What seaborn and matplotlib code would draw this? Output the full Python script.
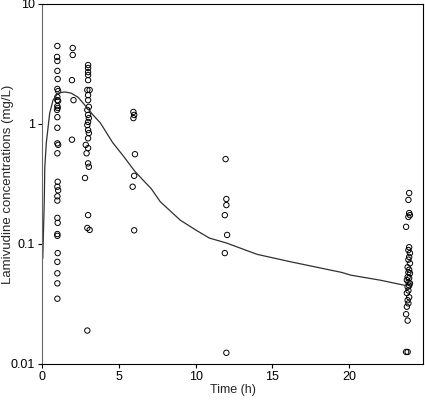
import matplotlib
matplotlib.use("Agg")
import matplotlib.pyplot as plt
import pandas as pd
import seaborn as sns

# observed concentrations (mg/L), grouped by nominal sampling time (h)
t1_time = [1.0, 0.98, 1.0, 1.0, 1.02, 1.0, 1.05, 1.0, 1.0, 1.05, 1.0, 1.02, 0.98,
           1.0, 1.0, 1.0, 1.05, 1.0, 1.02, 1.0, 1.05, 1.0, 1.0, 1.0, 1.02, 1.0,
           1.0, 1.02, 1.0, 1.0, 1.0]
t1_conc = [4.47, 3.62, 3.35, 2.77, 2.37, 1.96, 1.88, 1.68, 1.58, 1.56, 1.41, 1.36,
           1.31, 1.14, 0.93, 0.69, 0.67, 0.57, 0.33, 0.30, 0.28, 0.25, 0.23, 0.165,
           0.15, 0.121, 0.117, 0.084, 0.071, 0.057, 0.047]
t1b_time = [1.0]
t1b_conc = [0.035]

t2_time = [2.0, 2.0, 1.95, 2.05, 1.95]
t2_conc = [4.3, 3.76, 2.32, 1.58, 0.74]

t3_time = [3.0, 3.0, 3.0, 3.0, 3.0, 2.95, 3.1, 3.0, 3.0, 3.05, 2.95, 3.0, 3.05, 3.0,
           2.95, 3.0, 3.05, 3.0, 2.85, 3.0, 2.9, 3.0, 3.05, 2.8, 3.0, 2.95, 3.1, 2.95]
t3_conc = [3.10, 2.93, 2.71, 2.56, 2.32, 1.92, 1.92, 1.74, 1.58, 1.39, 1.31, 1.19,
           1.12, 1.04, 0.98, 0.89, 0.84, 0.76, 0.67, 0.63, 0.57, 0.47, 0.44, 0.355,
           0.174, 0.136, 0.131, 0.019]

t6_time = [5.95, 6.0, 5.95, 6.05, 6.0, 5.9, 6.0]
t6_conc = [1.26, 1.19, 1.12, 0.56, 0.37, 0.30, 0.13]

t12_time = [11.95, 12.0, 12.0, 11.9, 12.05, 11.9, 12.0]
t12_conc = [0.51, 0.237, 0.211, 0.174, 0.119, 0.084, 0.0124]

t24_time = [23.9, 23.85, 23.9, 23.95, 23.85, 23.7, 23.9, 23.85, 23.95, 23.9, 23.85,
            23.95, 23.8, 23.9, 23.85, 23.95, 23.8, 23.9, 23.75, 23.85, 23.95, 23.9,
            23.8, 23.85, 23.75, 23.9, 23.8, 23.85, 23.75, 23.7, 23.8, 23.7, 23.8]
t24_conc = [0.266, 0.233, 0.181, 0.174, 0.168, 0.139, 0.094, 0.089, 0.084, 0.078,
            0.074, 0.069, 0.064, 0.061, 0.058, 0.057, 0.053, 0.052, 0.050, 0.048,
            0.047, 0.045, 0.044, 0.041, 0.039, 0.036, 0.034, 0.032, 0.030, 0.026,
            0.023, 0.0126, 0.0126]

# population prediction curve
curve_time = [0.05, 0.15, 0.18, 0.28, 0.5, 0.72, 1.04, 1.48, 1.89, 2.35, 2.78, 3.32,
              3.8, 4.6, 5.3, 6.0, 6.4, 7.1, 7.7, 9.0, 10.0, 10.9, 12.0, 14.0, 16.2,
              19.5, 20.1, 22.0, 23.7]
curve_conc = [0.076, 0.233, 0.43, 0.695, 1.23, 1.58, 1.81, 1.85, 1.81, 1.67, 1.44,
              1.19, 1.02, 0.70, 0.54, 0.41, 0.36, 0.29, 0.225, 0.158, 0.131, 0.112,
              0.102, 0.082, 0.071, 0.058, 0.055, 0.050, 0.045]

obs = pd.DataFrame({
    "time": t1_time + t1b_time + t2_time + t3_time + t6_time + t12_time + t24_time,
    "conc": t1_conc + t1b_conc + t2_conc + t3_conc + t6_conc + t12_conc + t24_conc,
})
pred = pd.DataFrame({"time": curve_time, "conc": curve_conc})

sns.set_style("white")
plt.rcParams['font.family'] = ['Liberation Sans', 'DejaVu Sans']

fig = plt.figure(figsize=(4.25, 4.03), dpi=100)
ax = fig.add_axes([42 / 425, 39 / 403, 381 / 425, 360 / 403])

sns.lineplot(data=pred, x="time", y="conc", ax=ax, color="#303030", lw=0.9,
             estimator=None, sort=False)
sns.scatterplot(data=obs, x="time", y="conc", ax=ax, marker="o", s=15,
                facecolor="none", edgecolor="black", linewidth=0.7)

ax.set_yscale("log")
ax.set_ylim(0.01, 10)
ax.set_xlim(0, 24.8)
ax.set_yticks([0.01, 0.1, 1, 10])
ax.set_yticklabels(["0.01", "0.1", "1", "10"])
ax.set_xticks([0, 5, 10, 15, 20])
ax.minorticks_off()
ax.tick_params(direction="out", length=3, width=0.8, labelsize=9, pad=2,
               colors="black", left=True, bottom=True)
for s in ax.spines.values():
    s.set_color("black")
    s.set_linewidth(0.8)
ax.spines["left"].set_color("#666666")
ax.set_xlabel("Time (h)", fontsize=9, labelpad=1)
ax.set_ylabel("Lamivudine concentrations (mg/L)", fontsize=9.5)
ax.yaxis.set_label_coords(-0.074, 0.5)

fig.savefig("out.png", dpi=100)
